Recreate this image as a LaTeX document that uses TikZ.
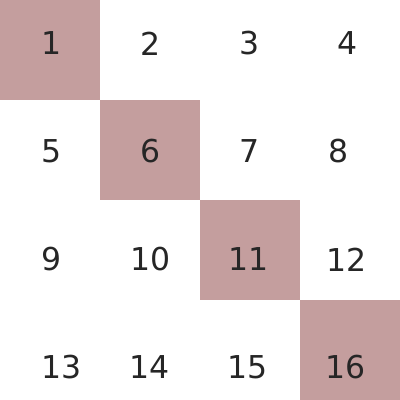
\documentclass[tikz,border=0pt]{standalone}
\usepackage{fontspec}
\setmainfont{DejaVu Sans}
\definecolor{cellfill}{RGB}{196,158,158}
\definecolor{numcol}{RGB}{38,38,38}
\begin{document}
\begin{tikzpicture}[x=1pt,y=-1pt,
  cellbox/.style={fill=cellfill,draw=none},
  num/.style={font=\fontsize{31.5}{36}\selectfont,text=numcol,inner sep=0pt,anchor=center,xshift=1.5pt}]
\useasboundingbox (0,0) rectangle (400,400);
\fill[white] (0,0) rectangle (400,400);
\fill[cellbox] (0,0) rectangle (100,100);
\fill[cellbox] (100,100) rectangle (200,200);
\fill[cellbox] (200,200) rectangle (300,300);
\fill[cellbox] (300,300) rectangle (400,400);
\node[num] (n1) at (50,43.5) {1};
\node[num] (n2) at (149.5,43.5) {2};
\node[num] (n3) at (248,43.5) {3};
\node[num] (n4) at (346.5,43.5) {4};
\node[num] (n5) at (50,151.5) {5};
\node[num] (n6) at (149,151.5) {6};
\node[num] (n7) at (248,151.5) {7};
\node[num] (n8) at (337.5,151.5) {8};
\node[num] (n9) at (50,259.5) {9};
\node[num] (n10) at (149.5,259.5) {10};
\node[num] (n11) at (247,259.5) {11};
\node[num] (n12) at (345,259.5) {12};
\node[num] (n13) at (60,367) {13};
\node[num] (n14) at (148.5,367) {14};
\node[num] (n15) at (246,367) {15};
\node[num] (n16) at (344.5,367) {16};
\end{tikzpicture}
\end{document}
